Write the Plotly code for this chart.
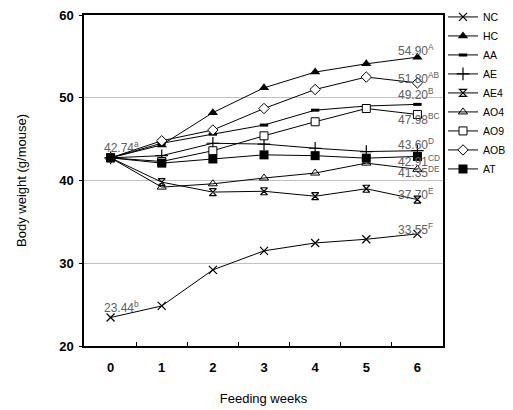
import plotly.graph_objects as go

weeks = [0, 1, 2, 3, 4, 5, 6]
NC = [23.44, 24.84, 29.2, 31.5, 32.45, 32.9, 33.55]
HC = [42.74, 44.3, 48.2, 51.2, 53.1, 54.1, 54.90]
AA = [42.74, 44.5, 45.6, 46.7, 48.5, 49.0, 49.20]
AE = [42.74, 43.0, 44.5, 44.4, 43.9, 43.5, 43.60]
AE4 = [42.74, 39.8, 38.6, 38.7, 38.1, 39.0, 37.70]
AO4 = [42.74, 39.2, 39.6, 40.3, 40.9, 42.1, 41.35]
AO9 = [42.74, 42.3, 43.6, 45.4, 47.1, 48.7, 47.98]
AOB = [42.74, 44.8, 46.1, 48.7, 51.0, 52.5, 51.80]
AT = [42.74, 42.1, 42.6, 43.1, 43.0, 42.7, 42.91]

series_names = ["NC", "HC", "AA", "AE", "AE4", "AO4", "AO9", "AOB", "AT"]
series_vals = [NC, HC, AA, AE, AE4, AO4, AO9, AOB, AT]

end_labels = ["33.55<sup>F</sup>", "54.90<sup>A</sup>", "49.20<sup>B</sup>", "43.60<sup>D</sup>",
              "37.70<sup>E</sup>", "41.35<sup>DE</sup>", "47.98<sup>BC</sup>", "51.80<sup>AB</sup>",
              "42.91<sup>CD</sup>"]
end_shift = [5, 7, 10, 7, 6, -3, -5, 5, -5]
start_labels = ["23.44<sup>b</sup>", "42.74<sup>a</sup>"]
start_vals = [NC[0], HC[0]]

styles = {
    "NC": dict(symbol="x-thin-open", size=8, line=dict(width=1.2, color="black")),
    "HC": dict(symbol="triangle-up", size=9, line=dict(width=0, color="black")),
    "AA": dict(symbol="line-ew-open", size=6, line=dict(width=3, color="black")),
    "AE": dict(symbol="cross-thin-open", size=9, line=dict(width=1.2, color="black")),
    "AE4": dict(symbol="hourglass-open", size=7, line=dict(width=1.2, color="black")),
    "AO4": dict(symbol="triangle-up-open", size=8, line=dict(width=1, color="black")),
    "AO9": dict(symbol="square", size=8, line=dict(width=1, color="black")),
    "AOB": dict(symbol="diamond", size=8, line=dict(width=1, color="black")),
    "AT": dict(symbol="square", size=9, line=dict(width=0, color="black")),
}
fills = {"AO9": "white", "AOB": "white"}

fig = go.Figure()
for name, vals in zip(series_names, series_vals):
    s = styles[name]
    fig.add_trace(go.Scatter(
        x=weeks, y=vals, name=name, mode="lines+markers",
        line=dict(color="black", width=1),
        marker=dict(symbol=s["symbol"], size=s["size"], color=fills.get(name, "black"),
                    line=s["line"]),
    ))

lab_font = dict(size=12, color="#606060", family="Liberation Sans, Arial")
annots = []
for name, vals, lab, sh in zip(series_names, series_vals, end_labels, end_shift):
    annots.append(dict(x=weeks[-1], y=vals[-1], xref="x", yref="y", text=lab, showarrow=False,
                       xanchor="left", yanchor="middle", xshift=-21, yshift=sh, font=lab_font))
for lab, v in zip(start_labels, start_vals):
    annots.append(dict(x=weeks[0], y=v, xref="x", yref="y", text=lab, showarrow=False,
                       xanchor="left", yanchor="middle", xshift=-9, yshift=11, font=lab_font))

tick_font = dict(size=13, family="Liberation Sans, Arial", weight="bold", color="black")

fig.update_layout(
    width=505, height=402,
    margin=dict(l=76, r=70, t=7, b=64, autoexpand=False),
    paper_bgcolor="white", plot_bgcolor="white",
    font=dict(family="Liberation Sans, Arial", color="black", size=12),
    showlegend=True,
    legend=dict(x=1.0, y=1.038, xanchor="left", yanchor="top", itemwidth=30,
                font=dict(size=10.5, color="black"), tracegroupgap=0,
                bgcolor="rgba(0,0,0,0)"),
    annotations=annots,
    xaxis=dict(range=[-0.52, 6.5], tickvals=weeks, ticktext=[str(w) for w in weeks],
               showgrid=False, zeroline=False, showline=True, linecolor="black", linewidth=1.5,
               mirror=True, ticks="", tickfont=tick_font, ticklabelstandoff=9,
               minor=dict(tickvals=[0.5, 1.5, 2.5, 3.5, 4.5, 5.5], ticks="inside", ticklen=4,
                          tickcolor="black", tickwidth=1, showgrid=False),
               title=dict(text="Feeding weeks", font=dict(size=13), standoff=20)),
    yaxis=dict(range=[20, 60], tickvals=[20, 30, 40, 50, 60], showgrid=True,
               gridcolor="#c0c0c0", gridwidth=1, zeroline=False, showline=True,
               linecolor="black", linewidth=1.5, mirror=True, ticks="outside", ticklen=3,
               tickcolor="black", tickfont=tick_font, ticklabelstandoff=3,
               ticklabeloverflow="allow",
               title=dict(text="Body weight (g/mouse)", font=dict(size=13), standoff=30)),
)

fig.write_html("out.html")
